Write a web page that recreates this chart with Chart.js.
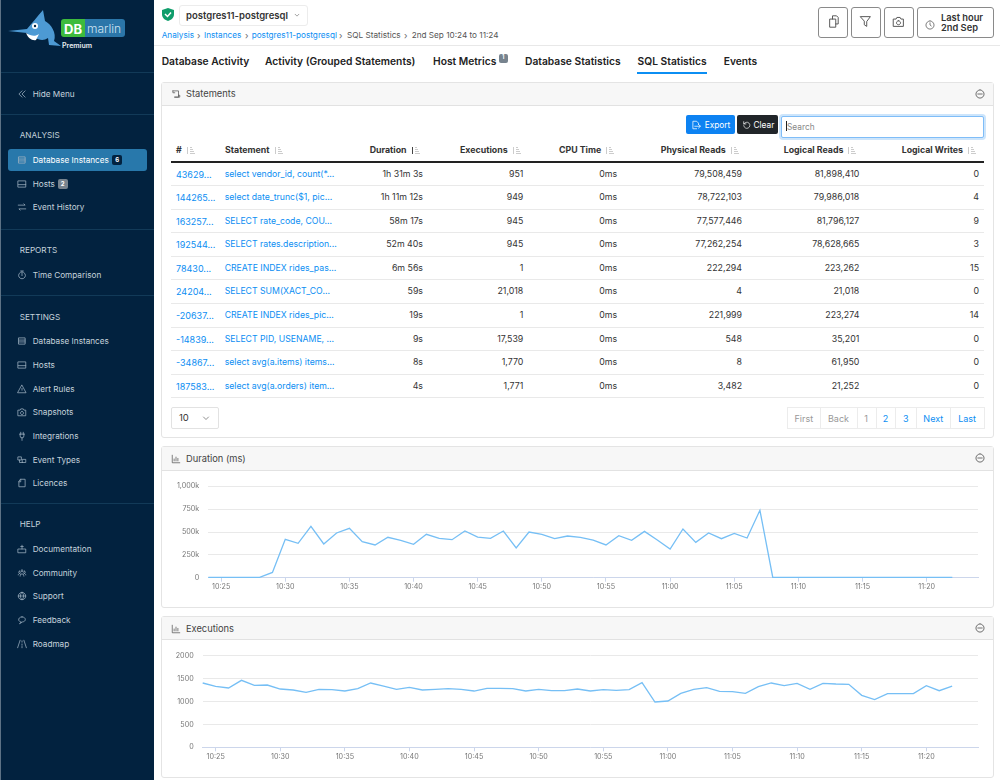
<!DOCTYPE html>
<html>
<head>
<meta charset="utf-8">
<title>SQL Statistics</title>
<script src="https://cdn.jsdelivr.net/npm/chart.js@4"></script>
<style>
  html, body { margin: 0; padding: 0; background: #fff; }
  body { width: 1000px; height: 780px; overflow: hidden; position: relative; font-family: Inter, "Noto Sans", sans-serif; color: #222; }
  .t { position: absolute; white-space: nowrap; line-height: 1; transform: translateY(-50%); }
  .box { position: absolute; box-sizing: border-box; }
  svg.i { position: absolute; fill: none; stroke-width: 1.2; stroke-linecap: round; stroke-linejoin: round; }
  canvas { position: absolute; }
</style>
</head>
<body>
<canvas id="durationChart" width="830" height="135" style="left:162px;top:472px;z-index:2"></canvas>
<canvas id="executionsChart" width="830" height="135" style="left:162px;top:642px;z-index:2"></canvas>
<script>
// chart data, one point per minute from 10:24 to 11:22
const timeLabels = ["10:24","10:25","10:26","10:27","10:28","10:29","10:30","10:31","10:32","10:33","10:34","10:35","10:36","10:37","10:38","10:39","10:40","10:41","10:42","10:43","10:44","10:45","10:46","10:47","10:48","10:49","10:50","10:51","10:52","10:53","10:54","10:55","10:56","10:57","10:58","10:59","11:00","11:01","11:02","11:03","11:04","11:05","11:06","11:07","11:08","11:09","11:10","11:11","11:12","11:13","11:14","11:15","11:16","11:17","11:18","11:19","11:20","11:21","11:22","11:23","11:24"];
const durationValues = [4000,3500,3000,3500,4000,58000,420000,376000,562000,369000,489000,540000,394000,358000,442000,409000,365000,475000,431000,416000,511000,445000,431000,511000,325000,500000,475000,427000,456000,442000,412000,358000,460000,409000,507000,412000,314000,533000,387000,489000,427000,485000,434000,737000,5000,4000,3500,3000,3500,4000,3500,3000,3500,4000,3000,3500,3000,3500,3000];
const executionValues = [1404,1331,1295,1462,1353,1360,1273,1251,1200,1265,1258,1229,1280,1404,1338,1265,1309,1251,1265,1280,1265,1229,1287,1287,1280,1229,1265,1236,1236,1273,1229,1258,1244,1258,1411,989,1011,1178,1265,1302,1222,1215,1178,1324,1404,1345,1396,1265,1396,1382,1375,1135,1040,1171,1171,1171,1345,1236,1338];

// table columns
const statementIds = ["43629...","144265...","163257...","192544...","78430...","24204...","-20637...","-14839...","-34867...","187583..."];
const statementTexts = ["select vendor_id, count(*...","select date_trunc($1, pic...","SELECT rate_code, COU...","SELECT rates.description...","CREATE INDEX rides_pas...","SELECT SUM(XACT_CO...","CREATE INDEX rides_pic...","SELECT PID, USENAME, ...","select avg(a.items) items...","select avg(a.orders) item..."];
const durations = ["1h 31m 3s","1h 11m 12s","58m 17s","52m 40s","6m 56s","59s","19s","9s","8s","4s"];
const executions = ["951","949","945","945","1","21,018","1","17,539","1,770","1,771"];
const physicalReads = ["79,508,459","78,722,103","77,577,446","77,262,254","222,294","4","221,999","548","8","3,482"];
const logicalReads = ["81,898,410","79,986,018","81,796,127","78,628,665","223,262","21,018","223,274","35,201","61,950","21,252"];
const logicalWrites = ["0","4","9","3","15","0","14","0","0","0"];

const blue = "#0b8ef3";
const navText = "#c5d2dc";

function box(x, y, w, h, css) {
  const d = document.createElement("div");
  d.className = "box";
  d.style.cssText = `left:${x}px;top:${y}px;width:${w}px;height:${h}px;${css || ""}`;
  document.body.appendChild(d);
  return d;
}

// y is the vertical middle of the text, align r means x is the right edge
function put(text, x, y, size, color, weight, align) {
  const s = document.createElement("span");
  s.className = "t";
  s.textContent = text;
  s.style.cssText = `top:${y}px;font-size:${size}px;color:${color || "#222"};font-weight:${weight || 400};z-index:3;` +
    (align === "r" ? `right:${1000 - x}px` : `left:${x}px`);
  document.body.appendChild(s);
  return s;
}

const iconPaths = {
  db: "M3 3h10v10H3zM3 6.5h10M3 9.5h10",
  host: "M2 3h12v10H2zM2 9h12",
  swap: "M2 5h11l-2-2M14 11H3l2 2",
  back: "M8 3L3 8l5 5M13 3L8 8l5 5",
  timer: "M8 5v4M6 1.5h4M8 3a5.5 5.5 0 1 0 .01 0",
  alert: "M8 2l6.5 12h-13zM8 7v3",
  camera: "M2 5h3l1-2h4l1 2h3v9H2zM8 7a2.5 2.5 0 1 0 .01 0",
  plug: "M4 5h8M5 5v3a3 3 0 0 0 6 0V5M8 11v4M6 2v3M10 2v3",
  events: "M2 3h5v5H2zM9 7h5v5H9zM4 8v4h5",
  licence: "M6 2h7v12H3V6zM6 2v4H3",
  docs: "M2 8h12v6H2zM8 8V2M6 4h4",
  people: "M4 5a1.5 1.5 0 1 0 .01 0M12 5a1.5 1.5 0 1 0 .01 0M8 3a1.5 1.5 0 1 0 .01 0M2 11c0-3 4-3 4-1M14 11c0-3-4-3-4-1M5 13c0-5 6-5 6 0",
  globe: "M8 2a6 6 0 1 0 .01 0M2 8h12M8 2c-3.5 3-3.5 9 0 12M8 2c3.5 3 3.5 9 0 12",
  chat: "M8 3c-7 0-7 8-1 8l-3 3 5-3c6-.5 6-8-1-8z",
  road: "M5 2L1 14M11 2l4 12M8 3v2M8 8v2M8 12v2",
  chart: "M2 2v12h12M5 11V8M8 11V5M11 11V7",
  statements: "M3 3h9v10H6M3 3v3h3M12 10h2v3H6",
  copy: "M5 5h7v10H5zM8 5V1h5l2 2v8h-3",
  filter: "M2 2h12L9.5 8v6l-3-2V8z",
  clock: "M8 1.5a6.5 6.5 0 1 0 .01 0M8 4.5V8l2 1.5",
  minus: "M8 1.5a6.5 6.5 0 1 0 .01 0M4.5 8h7",
  exportFile: "M9 14H3V2h6l3 3v2M6 10h9M12 7l3 3-3 3",
  undo: "M3 3v4h4M3.5 7A5.5 5.5 0 1 1 3 10",
  chevron: "M3 6l5 5 5-5"
};

function icon(name, cx, cy, size, color) {
  const svg = document.createElementNS("http://www.w3.org/2000/svg", "svg");
  svg.setAttribute("class", "i");
  svg.setAttribute("viewBox", "0 0 16 16");
  svg.setAttribute("width", size);
  svg.setAttribute("height", size);
  svg.style.cssText = `left:${cx - size / 2}px;top:${cy - size / 2}px;stroke:${color};z-index:3`;
  const p = document.createElementNS("http://www.w3.org/2000/svg", "path");
  p.setAttribute("d", iconPaths[name]);
  svg.appendChild(p);
  document.body.appendChild(svg);
}

// sidebar
box(0, 0, 154, 780, "background:#02223f;border-left:1px solid #5d7285");
[72, 114, 229, 295, 503].forEach(y => box(1, y, 153, 1, "background:#123a58"));
box(8, 149, 139, 22, "background:#2878ab;border-radius:3px");

const navItems = [
  ["back", "Hide Menu", 93.7], ["db", "Database Instances", 160], ["host", "Hosts", 183.7], ["swap", "Event History", 207],
  ["timer", "Time Comparison", 274.7], ["db", "Database Instances", 341], ["host", "Hosts", 365], ["alert", "Alert Rules", 388.5],
  ["camera", "Snapshots", 412], ["plug", "Integrations", 436], ["events", "Event Types", 459.5], ["licence", "Licences", 483],
  ["docs", "Documentation", 549], ["people", "Community", 572.5], ["globe", "Support", 596], ["chat", "Feedback", 620], ["road", "Roadmap", 643.5]
];
navItems.forEach(n => {
  icon(n[0], 22, n[2], 10, "#9fb2c2");
  put(n[1], 32.7, n[2], 8.2, n[2] === 160 ? "#fff" : navText);
});
[["ANALYSIS", 135], ["REPORTS", 250], ["SETTINGS", 316.5], ["HELP", 524]].forEach(h => put(h[0], 19.7, h[1], 8.2, navText));
box(112, 155, 10, 10, "background:#02223f;border-radius:2px");
put("6", 115.2, 160, 6, "#fff", 700);
box(57.5, 178.5, 10.5, 10, "background:#77838e;border-radius:2px");
put("2", 60.7, 183.6, 6, "#fff", 700);

// logo
const logo = document.createElementNS("http://www.w3.org/2000/svg", "svg");
logo.setAttribute("width", "56");
logo.setAttribute("height", "40");
logo.setAttribute("viewBox", "0 0 56 40");
logo.style.cssText = "position:absolute;left:7px;top:9px;z-index:3";
logo.innerHTML = '<path d="M1 22L20 20C25 14 30 8 36 1L38 12C44 15 50 24 47 32L54 37L42 36L41 29C37 32 32 31 28 29C23 30 21 27 20 24Z" fill="#4d9ad4"/>' +
  '<path d="M19 24C24 27 28 28 32 25L29 31C25 32 21 29 19 24Z" fill="#fff"/><circle cx="28" cy="17" r="3" fill="#fff"/><circle cx="28" cy="17" r="1.2" fill="#02223f"/>';
document.body.appendChild(logo);
box(61, 19, 24, 18, "background:#3dbb3d;border-radius:3px 0 0 3px");
box(85, 19, 40, 18, "background:#2b76a9;border-radius:0 3px 3px 0");
put("DB", 64, 28.5, 13, "#fff", 700);
put("marlin", 87, 28.5, 12, "#cfe4f2", 300);
put("Premium", 62, 44.5, 7, "#e9eef2", 600);

// top bar
box(154, 45, 846, 1, "background:#e8e8e8");
box(178.5, 4.5, 129, 21.5, "border:1px solid #ececec;border-radius:3px");
const shield = document.createElementNS("http://www.w3.org/2000/svg", "svg");
shield.setAttribute("width", "12");
shield.setAttribute("height", "13");
shield.setAttribute("viewBox", "0 0 12 13");
shield.style.cssText = "position:absolute;left:162px;top:8px;z-index:3";
shield.innerHTML = '<path d="M6 0L12 2V6C12 10 9 12 6 13C3 12 0 10 0 6V2Z" fill="#0f9d6b"/><path d="M3 6L5.5 8.5L9 4.5" stroke="#fff" stroke-width="1.5" fill="none"/>';
document.body.appendChild(shield);
put("postgres11-postgresql", 186, 16, 9.5, "#333", 600);
icon("chevron", 297, 15, 6, "#333");

[["Analysis", 161.7, blue], ["Instances", 204, blue], ["postgres11-postgresql", 251.7, blue], ["SQL Statistics", 347, "#555"], ["2nd Sep 10:24 to 11:24", 411.7, "#555"]]
  .forEach(c => put(c[0], c[1], 34.5, 8.2, c[2]));
[197, 245, 339, 404].forEach(x => put("\u203A", x, 34.5, 9, "#666"));

[["copy", 817.5, 30.5], ["filter", 850.5, 30.5], ["camera", 883.5, 30.5]].forEach(b => {
  box(b[1], 7, b[2], 30.5, "border:1px solid #8a8a8a;border-radius:3px");
  icon(b[0], b[1] + 15.2, 21.5, 13, "#555");
});
box(917, 7, 77, 30.5, "border:1px solid #8a8a8a;border-radius:3px");
icon("clock", 930, 24.5, 10, "#555");
put("Last hour", 941, 17.5, 9.3, "#333", 600);
put("2nd Sep", 941, 28, 9.3, "#333", 600);

// tabs
[["Database Activity", 161.7], ["Activity (Grouped Statements)", 265], ["Host Metrics", 433], ["Database Statistics", 525], ["SQL Statistics", 637.6], ["Events", 723.7]]
  .forEach(t => put(t[0], t[1], 61, 10.25, "#222", 600));
box(499, 54, 9, 8.5, "background:#77838e;border-radius:2px");
put("1", 502, 58.3, 5.5, "#fff", 700);
box(637, 72, 70, 1.7, "background:" + blue);

// panels
function panel(title, iconName, top, headerBottom, bottom) {
  box(161, top, 833, bottom - top, "border:1px solid #e4e4e4;border-radius:3px");
  box(162, top + 1, 831, headerBottom - top - 1, "background:#f7f7f7;border-bottom:1px solid #e2e2e2");
  icon(iconName, 176, (top + headerBottom) / 2 + 0.5, 10, "#555");
  put(title, 186, (top + headerBottom) / 2 + 0.5, 9.3, "#444");
  icon("minus", 979.5, (top + headerBottom) / 2, 10, "#444");
}
panel("Statements", "statements", 82, 105.7, 438);
panel("Duration (ms)", "chart", 446, 470.7, 608);
panel("Executions", "chart", 616, 640, 778);

// table toolbar
box(686, 115, 49, 18.5, "background:#0d82f2;border-radius:2px");
icon("exportFile", 695.5, 124.5, 10, "#fff");
put("Export", 704.7, 124.5, 8.3, "#fff");
box(737, 115, 41, 18.5, "background:#212529;border-radius:2px");
icon("undo", 746, 124.5, 9, "#fff");
put("Clear", 753.5, 124.5, 8.3, "#fff");
box(780.5, 115.5, 203, 22, "border:1px solid #7fbdf8;box-shadow:0 0 0 2px #cde5fb;border-radius:2px;background:#fff");
box(786, 121, 1, 10, "background:#222;z-index:3");
put("Search", 787, 126.5, 8.3, "#888");

// table header, with the x of each sort mark
const headerCols = [
  ["#", 176, 185.7, "#ccc"], ["Statement", 225, 274, "#ccc"], ["Duration", 369.7, 411, "#444"], ["Executions", 460, 511.7, "#ccc"],
  ["CPU Time", 559, 605, "#ccc"], ["Physical Reads", 660.7, 730, "#ccc"], ["Logical Reads", 783.7, 847, "#ccc"], ["Logical Writes", 901.7, 967, "#ccc"]
];
headerCols.forEach(h => {
  put(h[0], h[1], 150, 8.8, "#333", 700);
  box(h[2] + 1, 146.5, 1, 7, "background:" + h[3]);
  [[146.5, 2], [148.5, 3], [150.5, 4], [152.5, 5]].forEach(m => box(h[2] + 4, m[0], m[1], 0.8, "background:#ccc"));
});
box(171, 161, 813, 1.5, "background:#222");

// table rows
statementIds.forEach((id, i) => {
  const y = 173.7 + i * 23.55;
  put(id, 176, y, 9, blue);
  put(statementTexts[i], 224.7, y, 8.7, blue);
  put(durations[i], 423, y, 8.8, "#333", 400, "r");
  put(executions[i], 523.3, y, 8.8, "#333", 400, "r");
  put("0ms", 599.3, y, 8.8, "#333");
  put(physicalReads[i], 742, y, 8.8, "#333", 400, "r");
  put(logicalReads[i], 859.3, y, 8.8, "#333", 400, "r");
  put(logicalWrites[i], 979, y, 8.8, "#333", 400, "r");
  box(171, y + 11.5, 813, 1, "background:#e9e9e9");
});

// page size and pager
box(171, 407, 47.7, 21.7, "border:1px solid #e2e2e2;border-radius:2px");
put("10", 179, 418, 9.5, "#333");
icon("chevron", 206, 417.5, 8, "#444");
[["First", 787.3, 33, "#999"], ["Back", 820.3, 36.4, "#999"], ["1", 856.7, 19, "#999"], ["2", 875.7, 19.6, blue], ["3", 895.3, 21, blue], ["Next", 916.3, 34, blue], ["Last", 950.3, 33.7, blue]]
  .forEach(p => {
    box(p[1], 407, p[2] + 1, 21.7, "border:1px solid #ececec");
    put(p[0], p[1] + p[2] / 2, 418, 9, p[3]).style.transform = "translate(-50%,-50%)";
  });

// charts
function fiveMinuteTicks(scale) {
  scale.ticks = scale.ticks.filter(t => Number(timeLabels[t.value].slice(3)) % 5 === 0 && t.value < 60);
}

function drawLine(canvasId, values, yMax, yStep, yFormat, yWidth, topGap, xHeight) {
  new Chart(document.getElementById(canvasId), {
    type: "line",
    data: {
      labels: timeLabels,
      datasets: [{ data: values, borderColor: "#76bff5", borderWidth: 1.3, pointRadius: 0, tension: 0, fill: false, clip: false }]
    },
    options: {
      responsive: false,
      animation: false,
      layout: { padding: { top: topGap, right: 14, left: 0, bottom: 0 } },
      plugins: { legend: { display: false }, tooltip: { enabled: false } },
      scales: {
        x: {
          offset: false,
          afterBuildTicks: fiveMinuteTicks,
          afterFit: s => { s.height = xHeight; s.paddingLeft = 0; s.paddingRight = 0; },
          border: { color: "#ccd6eb", width: 1 },
          grid: { drawOnChartArea: false, color: "#ccd6eb", tickLength: 4 },
          ticks: { autoSkip: false, maxRotation: 0, padding: 1, color: "#777", font: { family: "Inter", size: 7.2 } }
        },
        y: {
          min: 0,
          max: yMax,
          afterFit: s => { s.width = yWidth; s.paddingTop = 0; s.paddingBottom = 0; },
          border: { display: false },
          grid: { color: "#e9e9e9", lineWidth: 1, drawTicks: false },
          ticks: { stepSize: yStep, padding: 9, color: "#777", font: { family: "Inter", size: 7.2 }, callback: yFormat }
        }
      }
    }
  });
}

drawLine("durationChart", durationValues, 1000000, 250000,
  v => v === 0 ? "0" : (v / 1000).toLocaleString("en-US") + "k", 46.3, 14.3, 29.3);
drawLine("executionsChart", executionValues, 2000, 500, v => String(v), 40.7, 13.7, 29.7);
</script>
</body>
</html>
